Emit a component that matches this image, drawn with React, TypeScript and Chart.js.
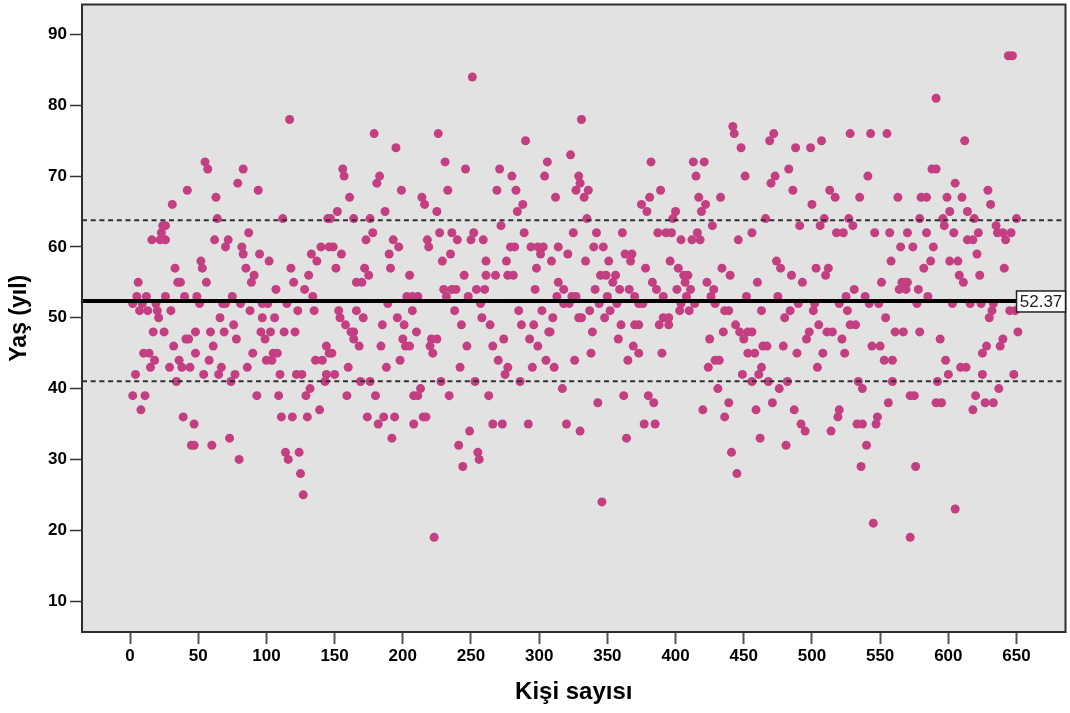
import React, { useEffect, useRef } from "react";
import { Chart, registerables } from "chart.js";

Chart.register(...registerables);

// Person numbers at each age (years)
const age19 = [223, 572];
const age21 = [545];
const age23 = [605];
const age24 = [346];
const age25 = [127];
const age28 = [125, 445];
const age29 = [244, 536, 576];
const age30 = [80, 116, 256];
const age31 = [114, 124, 255, 441];
const age32 = [45, 47, 60, 241, 481, 540];
const age33 = [73, 192, 364, 462];
const age34 = [249, 330, 495, 514];
const age35 = [47, 182, 208, 266, 273, 292, 320, 377, 385, 492, 533, 537, 547];
const age36 = [39, 111, 119, 130, 174, 186, 194, 215, 217, 436, 519, 548];
const age37 = [8, 139, 420, 459, 487, 520, 618];
const age38 = [343, 384, 439, 471, 556, 591, 595, 627, 633];
const age39 = [2, 11, 93, 109, 129, 159, 180, 208, 211, 234, 263, 362, 380, 572, 575, 620];
const age40 = [132, 213, 317, 431, 476, 537, 637];
const age41 = [34, 74, 143, 169, 176, 228, 253, 286, 456, 468, 482, 534, 559, 592];
const age42 = [4, 54, 65, 77, 110, 122, 126, 144, 150, 275, 449, 461, 600, 625, 648];
const age43 = [15, 29, 38, 44, 67, 86, 160, 188, 242, 277, 295, 311, 424, 463, 504, 609, 613];
const age44 = [18, 36, 58, 100, 104, 136, 141, 198, 270, 305, 326, 365, 429, 432, 553, 559, 598];
const age45 = [10, 14, 48, 90, 105, 108, 146, 148, 222, 338, 373, 390, 453, 458, 489, 508, 524, 625];
const age46 = [32, 61, 144, 168, 184, 202, 205, 220, 247, 266, 299, 369, 464, 467, 479, 544, 550, 628, 638];
const age47 = [41, 43, 78, 99, 164, 200, 221, 225, 274, 293, 358, 425, 450, 496, 522, 594, 640];
const age48 = [17, 25, 48, 59, 69, 96, 103, 113, 121, 162, 164, 210, 307, 308, 339, 435, 447, 453, 456, 498, 511, 515, 561, 567, 579, 651];
const age49 = [76, 158, 185, 201, 243, 264, 287, 296, 360, 370, 373, 388, 395, 444, 505, 528, 532];
const age50 = [21, 66, 97, 106, 154, 171, 196, 258, 310, 329, 331, 348, 391, 395, 480, 554, 630];
const age51 = [7, 13, 20, 30, 88, 123, 135, 153, 166, 207, 238, 285, 302, 337, 352, 403, 410, 436, 439, 463, 484, 501, 526, 632, 645, 649];
const age52 = [2, 9, 19, 51, 68, 70, 81, 97, 101, 115, 189, 257, 318, 322, 344, 357, 373, 376, 404, 414, 429, 490, 502, 520, 542, 549, 577, 603, 616, 624, 633];
const age53 = [5, 12, 26, 40, 49, 75, 134, 203, 207, 211, 232, 248, 313, 324, 327, 350, 370, 391, 408, 426, 452, 475, 525, 539, 585];
const age54 = [107, 128, 230, 236, 239, 254, 260, 297, 318, 341, 359, 366, 386, 401, 411, 428, 531, 564, 569, 578];
const age55 = [6, 35, 37, 56, 89, 120, 166, 170, 314, 354, 383, 407, 423, 460, 493, 551, 566, 568, 570, 611];
const age56 = [91, 131, 175, 205, 245, 261, 268, 277, 281, 345, 349, 356, 406, 409, 440, 485, 510, 608, 623];
const age57 = [33, 53, 85, 118, 151, 172, 191, 298, 378, 402, 434, 477, 503, 512, 582, 641];
const age58 = [52, 102, 137, 229, 261, 276, 309, 334, 351, 367, 396, 474, 558, 587, 601, 607];
const age59 = [83, 95, 133, 155, 190, 235, 301, 321, 363, 368, 621];
const age60 = [70, 82, 140, 146, 149, 197, 219, 279, 282, 294, 299, 303, 314, 340, 347, 565, 574, 589];
const age61 = [16, 22, 26, 62, 72, 173, 193, 218, 240, 250, 259, 404, 412, 418, 446, 614, 618, 642];
const age62 = [23, 87, 178, 227, 236, 252, 289, 325, 342, 361, 387, 393, 397, 416, 456, 518, 523, 546, 557, 570, 584, 604, 622, 636, 640, 646];
const age63 = [24, 26, 272, 427, 491, 506, 530, 597, 635];
const age64 = [64, 112, 145, 147, 164, 176, 335, 398, 466, 509, 527, 579, 596, 619, 650];
const age65 = [152, 187, 225, 284, 379, 400, 419, 601, 614];
const age66 = [31, 216, 288, 375, 422, 500, 631];
const age67 = [63, 161, 214, 312, 333, 381, 417, 433, 517, 535, 563, 580, 584, 599, 610];
const age68 = [42, 94, 199, 233, 269, 283, 327, 336, 389, 486, 513, 629];
const age69 = [79, 181, 330, 470, 605];
const age70 = [157, 183, 280, 304, 329, 415, 451, 473, 541];
const age71 = [57, 83, 156, 246, 271, 483, 588, 591];
const age72 = [55, 231, 306, 382, 413, 421];
const age73 = [323];
const age74 = [195, 448, 488, 499];
const age75 = [290, 469, 507, 612];
const age76 = [179, 226, 443, 472, 528, 543, 555];
const age77 = [442];
const age78 = [117, 331];
const age81 = [591];
const age84 = [251];
const age87 = [644, 647];

const personsByAge: [number, number[]][] = [
  [19, age19], [21, age21], [23, age23], [24, age24], [25, age25], [28, age28], [29, age29], [30, age30],
  [31, age31], [32, age32], [33, age33], [34, age34], [35, age35], [36, age36], [37, age37], [38, age38],
  [39, age39], [40, age40], [41, age41], [42, age42], [43, age43], [44, age44], [45, age45], [46, age46],
  [47, age47], [48, age48], [49, age49], [50, age50], [51, age51], [52, age52], [53, age53], [54, age54],
  [55, age55], [56, age56], [57, age57], [58, age58], [59, age59], [60, age60], [61, age61], [62, age62],
  [63, age63], [64, age64], [65, age65], [66, age66], [67, age67], [68, age68], [69, age69], [70, age70],
  [71, age71], [72, age72], [73, age73], [74, age74], [75, age75], [76, age76], [77, age77], [78, age78],
  [81, age81], [84, age84], [87, age87],
];

const meanAge = 52.37;
const upperLimit = 63.75;
const lowerLimit = 41.05;
const xMin = -35.2;
const xMax = 685.9;
const meanEnd = 650;
const yMin = 5.63;
const yMax = 94.23;
const xTitle = "Kişi sayısı";
const yTitle = "Yaş (yıl)";
const meanLabel = "52.37";

const FONT = "'Liberation Sans', Arial, sans-serif";
const DARK = "#2e2e2e";
const noPadding = () => ({ left: 0, top: 0, right: 0, bottom: 0 });

const frame = {
  id: "frame",
  beforeDraw(chart: any) {
    const { ctx, chartArea: a } = chart;
    ctx.save();
    ctx.fillStyle = "#e2e2e2";
    ctx.fillRect(a.left, a.top, a.right - a.left, a.bottom - a.top);
    ctx.restore();
  },
  afterDraw(chart: any) {
    const { ctx, chartArea: a, scales } = chart;
    ctx.save();
    ctx.strokeStyle = DARK;
    ctx.lineWidth = 2;
    ctx.strokeRect(a.left, a.top, a.right - a.left, a.bottom - a.top);
    const left = scales.x.getPixelForValue(meanEnd);
    const cy = scales.y.getPixelForValue(meanAge);
    ctx.fillStyle = "#ffffff";
    ctx.fillRect(left, cy - 10, a.right - left, 21);
    ctx.strokeStyle = "#222222";
    ctx.lineWidth = 1.5;
    ctx.strokeRect(left, cy - 10, a.right - left, 21);
    ctx.fillStyle = "#222222";
    ctx.font = `17px ${FONT}`;
    ctx.textAlign = "center";
    ctx.textBaseline = "middle";
    ctx.fillText(meanLabel, (left + a.right) / 2, cy + 1);
    ctx.restore();
  },
};

export default function App() {
  const ref = useRef<HTMLCanvasElement | null>(null);
  useEffect(() => {
    if (!ref.current) return;
    const points = personsByAge.flatMap(([age, persons]) => persons.map((p) => ({ x: p, y: age })));
    const limitLine = (value: number, label: string) => ({
      type: "line" as const,
      label,
      data: [{ x: xMin, y: value }, { x: xMax, y: value }],
      borderColor: "#303030",
      borderWidth: 2,
      borderDash: [5, 3.7],
      pointRadius: 0,
      order: 2,
    });
    const chart = new Chart(ref.current, {
      type: "scatter",
      data: {
        datasets: [
          {
            label: "Yaş",
            data: points,
            backgroundColor: "#c43e82",
            borderWidth: 0,
            pointRadius: 4.5,
            order: 3,
          },
          limitLine(upperLimit, "Üst sınır"),
          limitLine(lowerLimit, "Alt sınır"),
          {
            type: "line",
            label: "Ortalama",
            data: [{ x: xMin, y: meanAge }, { x: meanEnd, y: meanAge }],
            borderColor: "#000000",
            borderWidth: 4,
            pointRadius: 0,
            order: 1,
          },
        ],
      } as any,
      options: {
        animation: false,
        responsive: false,
        layout: { padding: { top: 2, right: 4, left: 0, bottom: 0 } },
        plugins: { legend: { display: false }, tooltip: { enabled: false } },
        scales: {
          x: {
            type: "linear",
            min: xMin,
            max: xMax,
            border: { display: false },
            grid: { drawOnChartArea: false, drawTicks: true, tickLength: 12, tickWidth: 2, tickColor: "#555555" },
            ticks: {
              stepSize: 50,
              includeBounds: false,
              autoSkip: false,
              maxRotation: 0,
              padding: 2,
              color: "#000000",
              font: { family: FONT, size: 17, weight: "bold" },
            },
            title: {
              display: true,
              text: xTitle,
              color: "#000000",
              font: { family: FONT, size: 24, weight: "bold", lineHeight: 1.05 },
              padding: { top: 0, bottom: 8 },
            },
            afterFit(scale: any) {
              scale.height = 81;
              scale.getPadding = noPadding;
            },
          },
          y: {
            type: "linear",
            min: yMin,
            max: yMax,
            border: { display: false },
            grid: { drawOnChartArea: false, drawTicks: true, tickLength: 12, tickWidth: 1.5, tickColor: "#333333" },
            ticks: {
              stepSize: 10,
              includeBounds: false,
              autoSkip: false,
              padding: 3,
              color: "#000000",
              font: { family: FONT, size: 17, weight: "bold" },
            },
            title: {
              display: true,
              text: yTitle,
              color: "#000000",
              font: { family: FONT, size: 23, weight: "bold", lineHeight: 1.05 },
              padding: { top: 8, bottom: 0 },
            },
            afterFit(scale: any) {
              scale.width = 82;
              scale.getPadding = noPadding;
            },
          },
        },
      } as any,
      plugins: [frame],
    });
    return () => chart.destroy();
  }, []);
  return (
    <div style={{ position: "absolute", left: 0, top: 0, width: 1070, height: 713, background: "#fff" }}>
      <canvas ref={ref} width={1070} height={713} style={{ display: "block" }} />
    </div>
  );
}
